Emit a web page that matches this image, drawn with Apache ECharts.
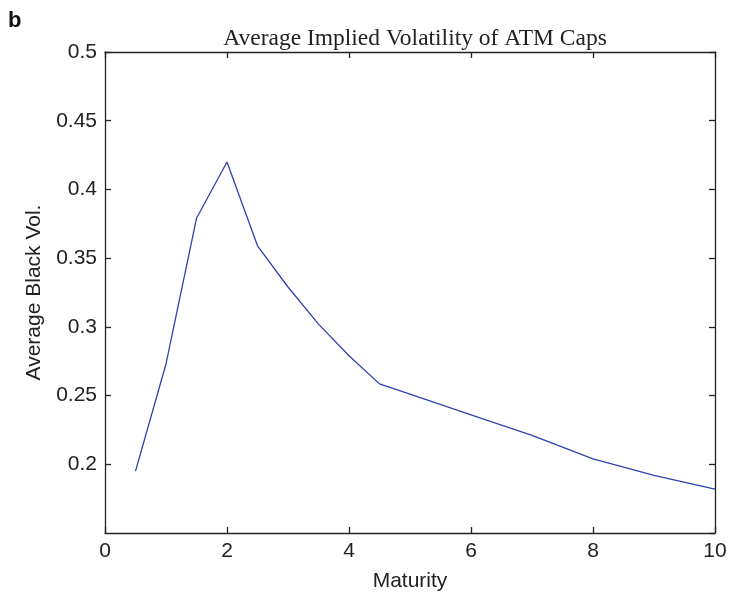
<!DOCTYPE html>
<html>
<head>
<meta charset="utf-8">
<script src="https://cdn.jsdelivr.net/npm/echarts@6/dist/echarts.min.js"></script>
<style>
  html, body { margin: 0; padding: 0; background: #fff; }
  #chart { width: 730px; height: 597px; }
</style>
</head>
<body>
<div id="chart"></div>
<script>
// Maturity (years) and average Black implied volatility of ATM caps
const maturities = [0.5, 1, 1.5, 2, 2.5, 3, 3.5, 4, 4.5, 5, 6, 7, 8, 9, 10];
const blackVols = [0.195, 0.273, 0.379, 0.420, 0.359, 0.329, 0.302, 0.279, 0.2585, 0.251, 0.236, 0.221, 0.204, 0.192, 0.182];

const xTicks = { min: 0, max: 10, interval: 2 };
const yTicks = { min: 0.15, max: 0.5, interval: 0.05 };

const chart = echarts.init(document.getElementById('chart'), null, { renderer: 'canvas' });

const axisFont = 'Liberation Sans, Arial, sans-serif';
// boxed axes with short inward ticks on all four sides
const boxLine = { show: true, onZero: false, lineStyle: { color: '#222', width: 1.3 } };
const inTick = { show: true, inside: true, length: 6, lineStyle: { color: '#222', width: 1.3 } };

chart.setOption({
  animation: false,
  backgroundColor: '#fff',
  title: [
    {
      text: 'Average Implied Volatility of ATM Caps',
      left: 410, top: 22, textAlign: 'center',
      textStyle: { fontFamily: 'Liberation Serif, Times New Roman, serif', fontWeight: 'normal', fontSize: 23.5, color: '#222' }
    },
    {
      text: 'b',
      left: 3, top: 5,
      textStyle: { fontFamily: axisFont, fontWeight: 'bold', fontSize: 22, color: '#111' }
    }
  ],
  grid: { left: 105, top: 52, right: 15, bottom: 62, containLabel: false },
  xAxis: [
    {
      type: 'value', min: xTicks.min, max: xTicks.max, interval: xTicks.interval,
      name: 'Maturity', nameLocation: 'middle', nameGap: 38,
      nameTextStyle: { fontFamily: axisFont, fontSize: 21, color: '#222' },
      axisLine: boxLine, axisTick: inTick, splitLine: { show: false },
      axisLabel: { fontFamily: axisFont, fontSize: 21, color: '#222', margin: 8 }
    },
    {
      type: 'value', position: 'top', min: xTicks.min, max: xTicks.max, interval: xTicks.interval,
      axisLine: boxLine, axisTick: inTick, splitLine: { show: false }, axisLabel: { show: false }
    }
  ],
  yAxis: [
    {
      type: 'value', min: yTicks.min, max: yTicks.max, interval: yTicks.interval,
      name: 'Average Black Vol.', nameLocation: 'middle', nameGap: 60,
      nameTextStyle: { fontFamily: axisFont, fontSize: 21, color: '#222' },
      axisLine: boxLine, axisTick: inTick, splitLine: { show: false },
      axisLabel: {
        fontFamily: axisFont, fontSize: 21, color: '#222', margin: 8,
        showMinLabel: false,
        formatter: v => String(parseFloat(v.toFixed(2)))
      }
    },
    {
      type: 'value', position: 'right', min: yTicks.min, max: yTicks.max, interval: yTicks.interval,
      axisLine: boxLine, axisTick: inTick, splitLine: { show: false }, axisLabel: { show: false }
    }
  ],
  series: [
    {
      type: 'line',
      data: maturities.map((m, i) => [m, blackVols[i]]),
      showSymbol: false,
      lineStyle: { color: '#2e42b0', width: 1.3 },
      xAxisIndex: 0, yAxisIndex: 0
    }
  ]
});
</script>
</body>
</html>
